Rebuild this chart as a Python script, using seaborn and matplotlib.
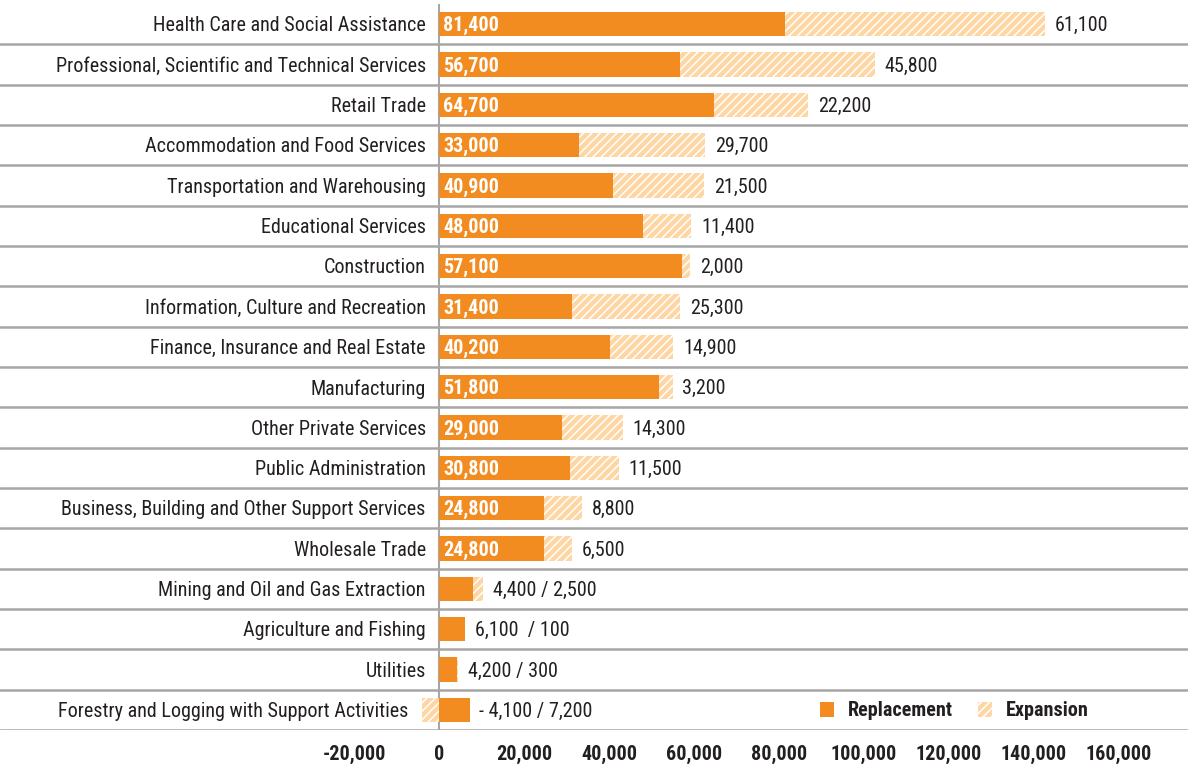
import matplotlib
matplotlib.use("Agg")
import matplotlib.pyplot as plt
import seaborn as sns
import pandas as pd
from matplotlib.patches import Patch
from matplotlib.transforms import offset_copy
from matplotlib import font_manager as fm

categories = [
    "Health Care and Social Assistance",
    "Professional, Scientific and Technical Services",
    "Retail Trade",
    "Accommodation and Food Services",
    "Transportation and Warehousing",
    "Educational Services",
    "Construction",
    "Information, Culture and Recreation",
    "Finance, Insurance and Real Estate",
    "Manufacturing",
    "Other Private Services",
    "Public Administration",
    "Business, Building and Other Support Services",
    "Wholesale Trade",
    "Mining and Oil and Gas Extraction",
    "Agriculture and Fishing",
    "Utilities",
    "Forestry and Logging with Support Activities",
]
replacement = [81400, 56700, 64700, 33000, 40900, 48000, 57100, 31400, 40200,
               51800, 29000, 30800, 24800, 24800, 7900, 6100, 4200, 7200]
expansion = [61100, 45800, 22200, 29700, 21500, 11400, 2000, 25300, 14900,
             3200, 14300, 11500, 8800, 6500, 2500, 100, 300, -4100]
small_labels = {
    "Mining and Oil and Gas Extraction": "4,400 / 2,500",
    "Agriculture and Fishing": "6,100  / 100",
    "Utilities": "4,200 / 300",
    "Forestry and Logging with Support Activities": "- 4,100 / 7,200",
}
x_ticks = [-20000, 0, 20000, 40000, 60000, 80000, 100000, 120000, 140000, 160000]

ORANGE = "#F28C20"
LIGHT = "#FDD6A4"
TEXT = "#231F20"
GRID = "#A6A6A6"

sns.set_theme(style="white")

# pick a condensed font if one is installed
family, stretch = "Roboto", "normal"
names = {f.name for f in fm.fontManager.ttflist}
found = False
for pref in ["Liberation Sans Narrow", "Roboto Condensed", "Open Sans Condensed",
             "Noto Sans Condensed", "Noto Sans Display Condensed", "DejaVu Sans Condensed"]:
    if pref in names:
        family, stretch, found = pref, "normal", True
        break
if not found:
    for f in fm.fontManager.ttflist:
        if f.stretch in ("condensed", "semi-condensed", "extra-condensed") and \
                f.style == "normal" and f.name in ("DejaVu Sans", "Noto Sans", "Open Sans", "Roboto", "Lato", "Inter"):
            family, stretch, found = f.name, f.stretch, True
            break
if not found:
    for f in fm.fontManager.ttflist:
        if ("Condensed" in f.name or "Narrow" in f.name) and f.style == "normal":
            family, stretch, found = f.name, "normal", True
            break
if family not in names:
    family = "DejaVu Sans"

plt.rcParams["font.family"] = [family, "DejaVu Sans"]
plt.rcParams["font.stretch"] = stretch
plt.rcParams["hatch.linewidth"] = 1.1

df = pd.DataFrame({"cat": categories, "rep": replacement, "exp": expansion})
df["exp_end"] = [r + e if e > 0 else e for r, e in zip(df["rep"], df["exp"])]

fig = plt.figure(figsize=(11.88, 7.68), dpi=100)
W, H = 1188, 768

# calibrate font size so label widths match the reference
renderer = fig.canvas.get_renderer()
probe = fig.text(0, 0, "Health Care and Social Assistance", fontsize=13.5)
wpx = probe.get_window_extent(renderer).width
probe.remove()
fs = max(9.5, min(14.5, 13.5 * 276.0 / wpx))

px0 = 439.0
scale = 4.25 / 1000.0  # px per unit
xmin = -px0 / scale
xmax = (W - px0) / scale
ax = fig.add_axes([0, 1 - 730 / H, 1, (730 - 4) / H])

sns.barplot(data=df, y="cat", x="exp_end", orient="h", color=LIGHT,
            width=0.6, ax=ax, linewidth=0, edgecolor="white", hatch="////",
            saturation=1)
sns.barplot(data=df, y="cat", x="rep", orient="h", color=ORANGE,
            width=0.6, ax=ax, linewidth=0, saturation=1)

ax.set_xlim(xmin, xmax)
ax.set_ylim(len(categories) - 0.5, -0.5)
for s in ax.spines.values():
    s.set_visible(False)
ax.set_ylabel("")
ax.set_xlabel("")
ax.set_yticks([])
ax.set_xticks(x_ticks)
ax.set_xticklabels([f"{v:,}" for v in x_ticks], fontsize=fs,
                   fontweight="bold", color=TEXT)
ax.tick_params(axis="x", length=0, pad=11)

for i in range(len(categories)):
    ax.axhline(i + 0.5, color=GRID, lw=1.8, zorder=0)
ax.plot([0, 0], [len(categories) - 0.5, -0.5], color=GRID, lw=1.5, zorder=0.5)

dy = -1.2
for i, row in df.iterrows():
    left = min(0, row["exp"])
    tr = offset_copy(ax.transData, fig=fig, x=-9.5, y=dy, units="points")
    ax.text(left, i, row["cat"], ha="right", va="center", fontsize=fs,
            color=TEXT, transform=tr)
    end = max(row["rep"], row["exp_end"])
    tr2 = offset_copy(ax.transData, fig=fig, x=7, y=dy, units="points")
    if row["cat"] in small_labels:
        ax.text(end, i, small_labels[row["cat"]], ha="left", va="center",
                fontsize=fs, color=TEXT, transform=tr2)
    else:
        ax.text(end, i, f"{row['exp']:,}", ha="left", va="center",
                fontsize=fs, color=TEXT, transform=tr2)
        tr3 = offset_copy(ax.transData, fig=fig, x=3, y=dy, units="points")
        ax.text(0, i, f"{row['rep']:,}", ha="left", va="center",
                fontsize=fs, color="white", fontweight="bold", transform=tr3)

handles = [Patch(facecolor=ORANGE, edgecolor="none", label="Replacement"),
           Patch(facecolor=LIGHT, edgecolor="white", hatch="////", lw=0,
                 label="Expansion")]
leg = ax.legend(handles=handles, loc="center left", ncol=2, frameon=False,
                bbox_to_anchor=(802 / W, 1 - (711 - 4) / (730 - 4)),
                prop={"size": fs, "weight": "bold"}, handlelength=0.7,
                handleheight=0.7, columnspacing=1.2, handletextpad=0.7)
for t in leg.get_texts():
    t.set_color(TEXT)

fig.savefig("out.png", dpi=100)
